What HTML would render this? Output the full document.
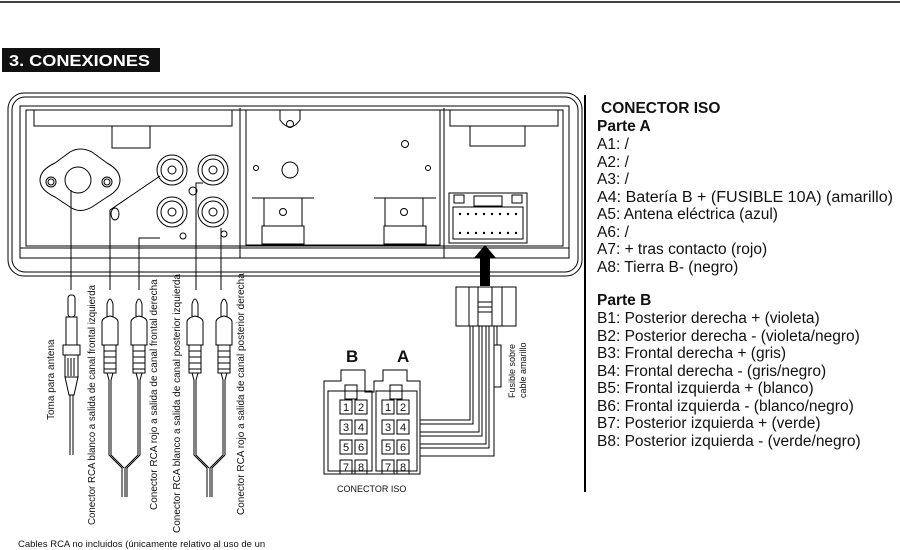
<!DOCTYPE html>
<html><head><meta charset="utf-8"><style>
html,body{margin:0;padding:0;background:#fff;width:900px;height:550px;overflow:hidden}
svg{display:block}
text{font-family:"Liberation Sans",Arial,sans-serif;fill:#111}
</style></head><body>
<svg width="900" height="550" viewBox="0 0 900 550" xmlns="http://www.w3.org/2000/svg">
<line x1="0" y1="2" x2="900" y2="2" stroke="#000" stroke-width="1.5"/>
<rect x="2" y="48" width="158" height="24" fill="#111"/>
<text x="9" y="66" font-size="16" font-weight="bold" textLength="141" lengthAdjust="spacingAndGlyphs" style="fill:#fff">3. CONEXIONES</text>
<line x1="585" y1="95" x2="585" y2="492" stroke="#000" stroke-width="2"/>

<g fill="none" stroke="#000" stroke-width="1">
<rect x="8" y="93" width="574" height="183" rx="16"/>
<rect x="12" y="97" width="566" height="175" rx="13"/>
<rect x="20" y="106" width="549" height="152"/>
<rect x="26" y="110" width="537" height="136"/>
<line x1="20" y1="248" x2="569" y2="248"/>
<line x1="240" y1="108" x2="240" y2="258"/>
<line x1="444" y1="108" x2="444" y2="258"/>
<rect x="34" y="110" width="198" height="16"/>
<rect x="450" y="110" width="108" height="16"/>
<rect x="112" y="126" width="38" height="22"/>
<rect x="470" y="126" width="55" height="20"/>
<path d="M246 110 H440 V245 H246 Z"/>
<path d="M280 110 V120 Q290 134 300 120 V110"/>
<circle cx="290" cy="124" r="3.5"/>
<circle cx="290" cy="170" r="8"/>
<circle cx="256" cy="168" r="2.5"/>
<circle cx="428" cy="168" r="2.5"/>
<circle cx="405" cy="144" r="3.5"/>
<line x1="252" y1="198" x2="314" y2="198"/>
<rect x="264" y="198" width="38" height="28"/>
<rect x="262" y="226" width="42" height="18"/>
<circle cx="283" cy="212" r="3.5"/>
<line x1="374" y1="198" x2="436" y2="198"/>
<rect x="385" y="198" width="38" height="28"/>
<rect x="384" y="226" width="42" height="18"/>
<circle cx="404" cy="212" r="3.5"/>
<path d="M40 180 Q40 170 55 163 L70 152 Q80 146 92 152 L107 163 Q120 170 120 180 Q120 190 107 197 L92 207 Q80 214 70 207 L55 197 Q40 190 40 180 Z"/>
<circle cx="78" cy="180" r="13"/>
<circle cx="51" cy="182" r="5"/><circle cx="51" cy="182" r="3"/>
<circle cx="107" cy="182" r="5"/><circle cx="107" cy="182" r="3"/>
<circle cx="172" cy="170" r="15"/><circle cx="172" cy="170" r="11"/><circle cx="172" cy="170" r="4"/>
<circle cx="213" cy="170" r="15"/><circle cx="213" cy="170" r="11"/><circle cx="213" cy="170" r="4"/>
<circle cx="172" cy="212" r="15"/><circle cx="172" cy="212" r="11"/><circle cx="172" cy="212" r="4"/>
<circle cx="213" cy="212" r="15"/><circle cx="213" cy="212" r="11"/><circle cx="213" cy="212" r="4"/>
<circle cx="193" cy="191" r="4"/>
<circle cx="183" cy="236" r="3"/>
<circle cx="224" cy="234" r="3"/>
<ellipse cx="115" cy="214" rx="4" ry="6"/>
<rect x="449" y="193" width="78" height="50"/>
<rect x="453" y="207" width="70" height="32"/>
<rect x="454" y="195" width="10" height="8"/><rect x="512" y="195" width="10" height="8"/>
<rect x="474" y="196" width="28" height="10"/>
</g>
<g fill="#000">
<circle cx="460" cy="214" r="1.2"/><circle cx="468" cy="214" r="1.2"/><circle cx="476" cy="214" r="1.2"/><circle cx="484" cy="214" r="1.2"/><circle cx="492" cy="214" r="1.2"/><circle cx="500" cy="214" r="1.2"/><circle cx="508" cy="214" r="1.2"/><circle cx="516" cy="214" r="1.2"/>
<circle cx="460" cy="233" r="1.2"/><circle cx="468" cy="233" r="1.2"/><circle cx="476" cy="233" r="1.2"/><circle cx="484" cy="233" r="1.2"/><circle cx="492" cy="233" r="1.2"/><circle cx="500" cy="233" r="1.2"/><circle cx="508" cy="233" r="1.2"/><circle cx="516" cy="233" r="1.2"/>
<path d="M485 245 L496 258 L490 258 L490 286 L480 286 L480 258 L474 258 Z"/>
</g>
<g fill="none" stroke="#000" stroke-width="1">
<line x1="71" y1="190" x2="71" y2="290"/>
<path d="M110 290 V210 L160 176"/>
<path d="M139 290 V238 H160"/>
<path d="M196 290 V183 H203"/>
<path d="M221 290 V228"/>
</g>
<g fill="#fff" stroke="#000" stroke-width="1">
<rect x="68" y="295" width="7" height="22" rx="3"/>
<rect x="66" y="317" width="11" height="28"/>
<rect x="63" y="345" width="17" height="10"/>
<rect x="65" y="355" width="13" height="22"/>
<path d="M65 377 L78 377 L74 395 L69 395 Z"/>
<line x1="70" y1="395" x2="70" y2="455"/><line x1="73" y1="395" x2="73" y2="455"/>
<line x1="68" y1="358" x2="68" y2="376"/><line x1="71" y1="358" x2="71" y2="376"/><line x1="74" y1="358" x2="74" y2="376"/>
</g>
<g fill="#fff" stroke="#000" stroke-width="1">
<g id="p1">
<path d="M107 320 V304 Q110 294 113 304 V320"/>
<path d="M102 345 V322 Q102 318 110 316 Q118 318 118 322 V345 Z"/>
<rect x="104" y="345" width="12" height="28"/>
<line x1="104" y1="351" x2="116" y2="351"/><line x1="104" y1="357" x2="116" y2="357"/><line x1="104" y1="363" x2="116" y2="363"/><line x1="104" y1="369" x2="116" y2="369"/>
<path d="M107 373 L109 380 M113 373 L111 380"/>
</g>
<use href="#p1" x="29"/>
<use href="#p1" x="85"/>
<use href="#p1" x="114"/>
</g>
<g fill="none" stroke="#000" stroke-width="1">
<path d="M109 380 V455 L122 468 V497 M111 380 V455 L124 468"/>
<path d="M138 380 V455 L125 468 V497 M140 380 V455 L127 468 V497"/>
<path d="M194 380 V455 L207 468 V497 M196 380 V455 L209 468"/>
<path d="M223 380 V455 L210 468 V497 M225 380 V455 L212 468 V497"/>
</g>
<text x="346" y="362" font-size="17" font-weight="bold">B</text>
<text x="397" y="362" font-size="17" font-weight="bold">A</text>
<g fill="none" stroke="#000" stroke-width="1">
<path d="M324 393 V381 H341 V370 H365 V392 H374 V381 H383 V370 H407 V381 H420 V474 H324 Z"/>
<rect x="328" y="391" width="44" height="80"/>
<rect x="376" y="391" width="41" height="80"/>
<rect x="345" y="385" width="12" height="14"/>
<rect x="390" y="385" width="12" height="14"/>
<rect x="340" y="400" width="12" height="14"/><rect x="355" y="400" width="12" height="14"/>
<rect x="340" y="420" width="12" height="14"/><rect x="355" y="420" width="12" height="14"/>
<rect x="340" y="440" width="12" height="14"/><rect x="355" y="440" width="12" height="14"/>
<rect x="340" y="460" width="12" height="14"/><rect x="355" y="460" width="12" height="14"/>
<rect x="382" y="400" width="12" height="14"/><rect x="397" y="400" width="12" height="14"/>
<rect x="382" y="420" width="12" height="14"/><rect x="397" y="420" width="12" height="14"/>
<rect x="382" y="440" width="12" height="14"/><rect x="397" y="440" width="12" height="14"/>
<rect x="382" y="460" width="12" height="14"/><rect x="397" y="460" width="12" height="14"/>
</g>
<g font-size="11" text-anchor="middle">
<text x="346" y="411">1</text><text x="361" y="411">2</text><text x="346" y="431">3</text><text x="361" y="431">4</text>
<text x="346" y="451">5</text><text x="361" y="451">6</text><text x="346" y="471">7</text><text x="361" y="471">8</text>
<text x="388" y="411">1</text><text x="403" y="411">2</text><text x="388" y="431">3</text><text x="403" y="431">4</text>
<text x="388" y="451">5</text><text x="403" y="451">6</text><text x="388" y="471">7</text><text x="403" y="471">8</text>
</g>
<text x="337" y="492" font-size="9">CONECTOR ISO</text>
<g fill="none" stroke="#000" stroke-width="1">
<rect x="456" y="287" width="60" height="39"/>
<line x1="469" y1="287" x2="469" y2="326"/><line x1="502" y1="287" x2="502" y2="326"/>
<rect x="478" y="287" width="14" height="39"/>
<line x1="478" y1="302" x2="492" y2="302"/><line x1="478" y1="307" x2="492" y2="307"/><line x1="478" y1="312" x2="492" y2="312"/>
<path d="M420 424 H473 V326 M420 420 H470 V326"/>
<path d="M420 432 H479 V326 M420 436 H482 V326"/>
<path d="M420 444 H486 V326 M420 448 H489 V326"/>
<path d="M420 456 H494 V326"/>
<path d="M497 326 V345"/>
<rect x="494" y="345" width="7" height="42"/>
</g>
<text transform="translate(515,398) rotate(-90)" font-size="9">Fusible sobre</text>
<text transform="translate(526,398) rotate(-90)" font-size="9">cable amarillo</text>
<g font-size="10">
<text transform="translate(54,420) rotate(-90)">Toma para antena</text>
<text transform="translate(95,525) rotate(-90)" textLength="240" lengthAdjust="spacingAndGlyphs">Conector RCA blanco a salida de canal frontal izquierda</text>
<text transform="translate(157,510) rotate(-90)">Conector RCA rojo a salida de canal frontal derecha</text>
<text transform="translate(180,533) rotate(-90)">Conector RCA blanco a salida de canal posterior izquierda</text>
<text transform="translate(244,515) rotate(-90)">Conector RCA rojo a salida de canal posterior derecha</text>
</g>
<text x="18" y="547" font-size="9.5">Cables RCA no incluidos (únicamente relativo al uso de un</text>
<g font-size="15.5">
<text x="601" y="113" font-weight="bold">CONECTOR ISO</text>
<text x="597" y="131" font-weight="bold">Parte A</text>
<text x="597" y="149">A1:  /</text>
<text x="597" y="167">A2:  /</text>
<text x="597" y="184">A3:  /</text>
<text x="597" y="202" textLength="296" lengthAdjust="spacingAndGlyphs">A4: Batería B + (FUSIBLE 10A) (amarillo)</text>
<text x="597" y="219">A5: Antena eléctrica (azul)</text>
<text x="597" y="237">A6:  /</text>
<text x="597" y="254">A7: + tras contacto (rojo)</text>
<text x="597" y="272">A8: Tierra B- (negro)</text>
<text x="597" y="305" font-weight="bold">Parte B</text>
<text x="597" y="323">B1: Posterior derecha + (violeta)</text>
<text x="597" y="341">B2: Posterior derecha - (violeta/negro)</text>
<text x="597" y="358">B3: Frontal derecha + (gris)</text>
<text x="597" y="376">B4: Frontal derecha - (gris/negro)</text>
<text x="597" y="393">B5: Frontal izquierda + (blanco)</text>
<text x="597" y="411">B6: Frontal izquierda - (blanco/negro)</text>
<text x="597" y="428">B7: Posterior izquierda + (verde)</text>
<text x="597" y="446">B8: Posterior izquierda - (verde/negro)</text>
</g>
</svg>
</body></html>
